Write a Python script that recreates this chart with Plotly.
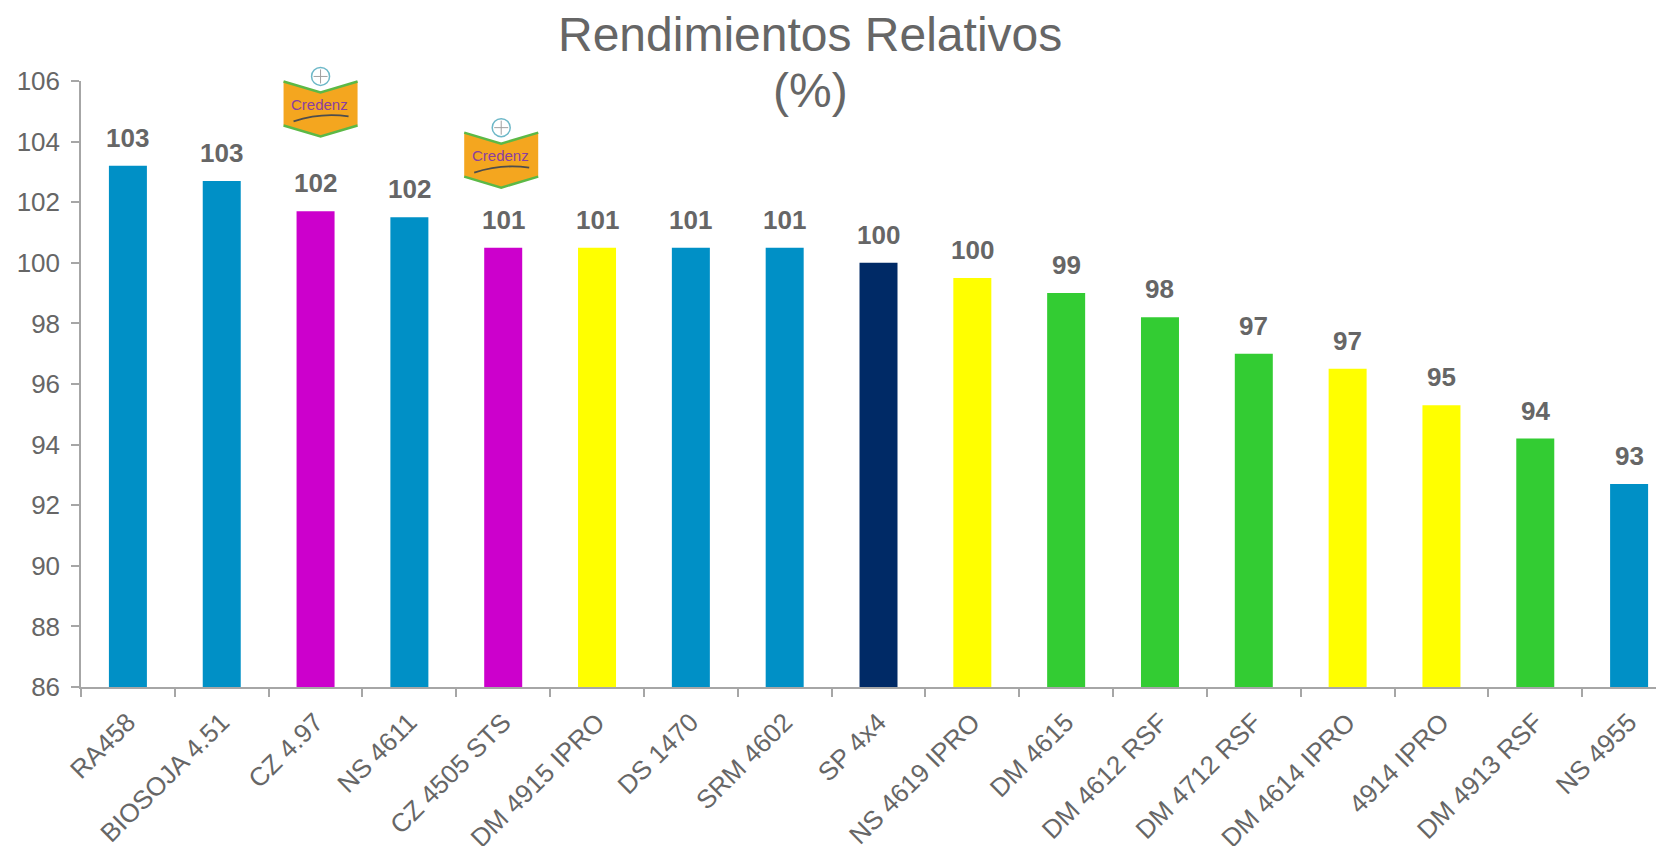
import plotly.graph_objects as go

categories = ["RA458", "BIOSOJA 4.51", "CZ 4.97", "NS 4611", "CZ 4505 STS", "DM 4915 IPRO",
              "DS 1470", "SRM 4602", "SP 4x4", "NS 4619 IPRO", "DM 4615", "DM 4612 RSF",
              "DM 4712 RSF", "DM 4614 IPRO", "4914 IPRO", "DM 4913 RSF", "NS 4955"]
values = [103.2, 102.7, 101.7, 101.5, 100.5, 100.5, 100.5, 100.5, 100.0, 99.5, 99.0, 98.2,
          97.0, 96.5, 95.3, 94.2, 92.7]
labels = ["103", "103", "102", "102", "101", "101", "101", "101", "100", "100", "99", "98",
          "97", "97", "95", "94", "93"]
BLUE, MAG, YEL, NAVY, GRN = "#0090C6", "#CC00CC", "#FFFF00", "#002A66", "#33CC33"
bar_colors = [BLUE, BLUE, MAG, BLUE, MAG, YEL, BLUE, BLUE, NAVY, YEL, GRN, GRN, GRN, YEL, YEL, GRN, BLUE]
y_ticks = [86, 88, 90, 92, 94, 96, 98, 100, 102, 104, 106]
title_lines = ["Rendimientos Relativos", "(%)"]

logo_categories = ["CZ 4.97", "CZ 4505 STS"]
logo_base = [104.17, 102.48]

FONT = "Liberation Sans, Arial, sans-serif"
GRAY = "#666666"
AXIS = "#A6A6A6"

Y_RANGE = [86, 106]
X_RANGE = [-0.5, 16.372]
W, H = 1656, 838
ML, MT, MR, MB = 73, 73, 0, 159
plot_w = W - ML - MR
plot_h = H - MT - MB

idx = list(range(len(categories)))

fig = go.Figure(go.Bar(
    x=idx, y=values, marker=dict(color=bar_colors, line=dict(width=0)),
    width=0.405, hoverinfo="skip"))

annotations = []
for i, (v, lab) in enumerate(zip(values, labels)):
    annotations.append(dict(x=i, y=v, xref="x", yref="y", text=lab, showarrow=False,
                            yanchor="bottom", yshift=11,
                            font=dict(family=FONT, size=26, color=GRAY, weight="bold")))

# title lines (two separate lines to control line spacing)
title_x = (802 - ML) / plot_w
for k, (line, yc) in enumerate(zip(title_lines, [26, 82])):
    annotations.append(dict(x=title_x, y=1 + (MT - yc) / plot_h, xref="paper", yref="paper",
                            text=line, showarrow=False, xanchor="center", yanchor="middle",
                            font=dict(family=FONT, size=48, color=GRAY)))

shapes = []
logo_offsets_px = [5, -2]
for cat, base, off in zip(logo_categories, logo_base, logo_offsets_px):
    xi = categories.index(cat)
    xa = (xi - X_RANGE[0]) / (X_RANGE[1] - X_RANGE[0])
    ya = (base - Y_RANGE[0]) / (Y_RANGE[1] - Y_RANGE[0])
    common = dict(xref="paper", yref="paper", xsizemode="pixel", ysizemode="pixel",
                  xanchor=xa, yanchor=ya, layer="above")

    def sx(v):
        return v + off
    shapes.append(dict(type="path",
                       path=f"M {sx(-37)},55 L {sx(0)},44 L {sx(37)},55 L {sx(37)},11 L {sx(0)},0 L {sx(-37)},11 Z",
                       fillcolor="#F4A61F", line=dict(width=0), **common))
    shapes.append(dict(type="path", path=f"M {sx(-37)},55 L {sx(0)},44 L {sx(37)},55",
                       line=dict(color="#5CB946", width=2.5), **common))
    shapes.append(dict(type="path", path=f"M {sx(-37)},11 L {sx(0)},0 L {sx(37)},11",
                       line=dict(color="#5CB946", width=2.5), **common))
    shapes.append(dict(type="path", path=f"M {sx(-27)},15 Q {sx(0)},24 {sx(28)},20",
                       line=dict(color="#4D4D4D", width=1.8), **common))
    shapes.append(dict(type="circle", x0=sx(-9), x1=sx(9), y0=51, y1=69, fillcolor="white",
                       line=dict(color="#6DB8C8", width=1.5), **common))
    shapes.append(dict(type="path", path=f"M {sx(0)},53 L {sx(0)},67 M {sx(-7)},60 L {sx(7)},60",
                       line=dict(color="#A0A0A0", width=1), **common))
    annotations.append(dict(x=xi, y=base, xref="x", yref="y", text="Credenz", showarrow=False,
                            xshift=off - 1, yshift=32,
                            font=dict(family=FONT, size=15, color="#8A3FA0")))

fig.update_layout(
    width=W, height=H,
    margin=dict(l=ML, r=MR, t=MT, b=MB, pad=0),
    paper_bgcolor="white", plot_bgcolor="white",
    showlegend=False,
    annotations=annotations,
    shapes=shapes,
    xaxis=dict(range=X_RANGE, tickmode="array", tickvals=idx, ticktext=categories,
               tickangle=-45, ticks="", showline=True, linecolor=AXIS, linewidth=1.5,
               showgrid=False, zeroline=False, automargin=False, ticklabelstandoff=8,
               tickfont=dict(family=FONT, size=26, color=GRAY),
               minor=dict(tick0=-0.5, dtick=1, ticks="outside", ticklen=8,
                          tickcolor=AXIS, tickwidth=1.5, showgrid=False)),
    yaxis=dict(range=Y_RANGE, tickmode="array", tickvals=y_ticks, ticks="outside",
               ticklen=8, tickcolor=AXIS, tickwidth=1.5, showline=True, linecolor=AXIS,
               linewidth=1.5, showgrid=False, zeroline=False, automargin=False,
               ticklabelstandoff=6,
               tickfont=dict(family=FONT, size=26, color=GRAY)),
)

fig.write_html("out.html")
